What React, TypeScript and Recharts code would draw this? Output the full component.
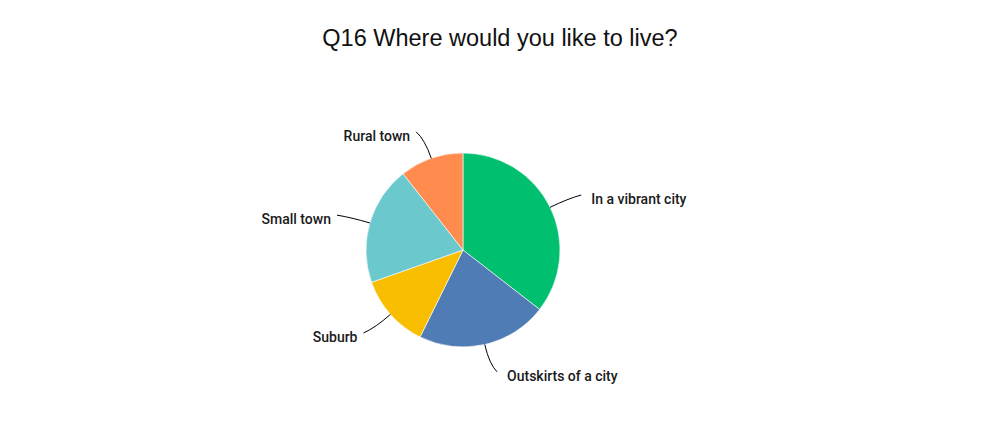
import React from 'react';
import { PieChart, Pie, Cell } from 'recharts';

const categories = ['In a vibrant city', 'Outskirts of a city', 'Suburb', 'Small town', 'Rural town'];
const shares = [35.5, 21.8, 12.3, 19.8, 10.6];
const colors = ['#00BF6F', '#507CB6', '#F9BE00', '#6BC8CD', '#FF8B4F'];

const data = categories.map((name, i) => ({ name, value: shares[i] }));

const RAD = Math.PI / 180;

const renderLabel = (props: any) => {
  const { cx, cy, midAngle, outerRadius, name } = props;
  const cos = Math.cos(-midAngle * RAD);
  const sin = Math.sin(-midAngle * RAD);
  const sx = cx + outerRadius * cos;
  const sy = cy + outerRadius * sin;
  const mx = cx + (outerRadius + 20) * cos;
  const my = cy + (outerRadius + 20) * sin;
  const side = cos >= 0 ? 1 : -1;
  const ex = cx + (outerRadius + 28) * cos + side * 6;
  const ey = cy + (outerRadius + 28) * sin;
  const gap = side > 0 ? 10 : 6;
  return <g>
      <path d={`M${sx},${sy} Q${mx},${my} ${ex},${ey}`} stroke="#000" strokeWidth={1} fill="none" />
      <text x={ex + side * gap} y={ey + 4} textAnchor={side > 0 ? 'start' : 'end'} dominantBaseline="central" fill="#1a1a1a" fontFamily="Roboto, sans-serif" fontWeight={500} fontSize={14}>
        {name}
      </text>
    </g>;
};

const App: React.FC = () => {
  return <div style={{
    position: 'fixed',
    left: 0,
    top: 0,
    width: 1000,
    height: 430,
    background: '#fff'
  }}>
      <div style={{
      position: 'absolute',
      top: 25,
      left: 0,
      width: 1000,
      textAlign: 'center',
      fontFamily: '"Liberation Sans", Arial, sans-serif',
      fontSize: 23.5,
      color: '#111'
    }}>
        Q16 Where would you like to live?
      </div>
      <PieChart width={1000} height={430} margin={{ top: 0, right: 0, bottom: 0, left: 0 }}>
        <Pie data={data} dataKey="value" nameKey="name" cx={463} cy={250} outerRadius={97} startAngle={90} endAngle={-270} stroke="#fff" strokeWidth={0.6} label={renderLabel} labelLine={false} isAnimationActive={false}>
          {data.map((entry, index) => <Cell key={`cell-${index}`} fill={colors[index]} />)}
        </Pie>
      </PieChart>
    </div>;
};

export default App;
